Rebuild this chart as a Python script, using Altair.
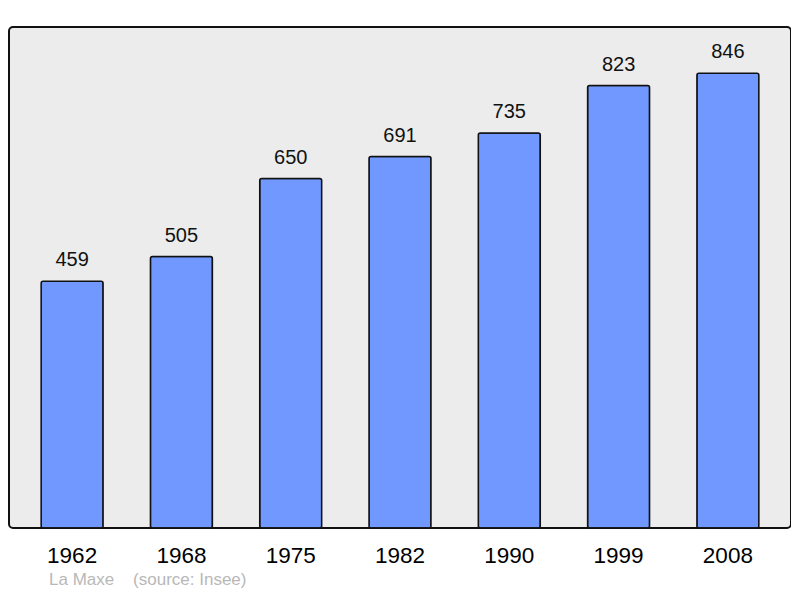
import altair as alt
import pandas as pd

years = ["1962", "1968", "1975", "1982", "1990", "1999", "2008"]
population = [459, 505, 650, 691, 735, 823, 846]

df = pd.DataFrame({"year": years, "pop": population})

base = alt.Chart(df).encode(
    x=alt.X(
        "year:O",
        title=None,
        sort=years,
        scale=alt.Scale(paddingInner=0.433, paddingOuter=0.294),
        axis=alt.Axis(labelAngle=0, ticks=False, domain=False, labelFontSize=22.5,
                      labelColor="#000", labelPadding=16, labelFont="Liberation Sans"),
    ),
    y=alt.Y("pop:Q", axis=None, scale=alt.Scale(domain=[0, 932], nice=False)),
)

bars = base.mark_bar(color="#7098ff", stroke="#111", strokeWidth=1.5, cornerRadius=2)

labels = base.mark_text(dy=-21, fontSize=20, font="Liberation Sans", color="#111").encode(
    text="pop:Q"
)

chart = (bars + labels).properties(
    width=782,
    height=501,
    autosize=alt.AutoSizeParams(type="none"),
    padding={"left": 1, "top": 19, "right": 0, "bottom": 62},
    background="white",
    title=alt.Title(
        "La Maxe\u00a0\u00a0\u00a0\u00a0(source: Insee)",
        orient="bottom",
        anchor="start",
        dx=40,
        offset=5,
        fontSize=17,
        fontWeight="normal",
        color="#b8b8b8",
        font="Liberation Sans",
    ),
).configure_view(
    fill="#ececec",
    stroke="#111",
    strokeWidth=2,
    cornerRadius=4,
)

chart.save("out.html", embed_options={"renderer": "svg", "actions": False})
